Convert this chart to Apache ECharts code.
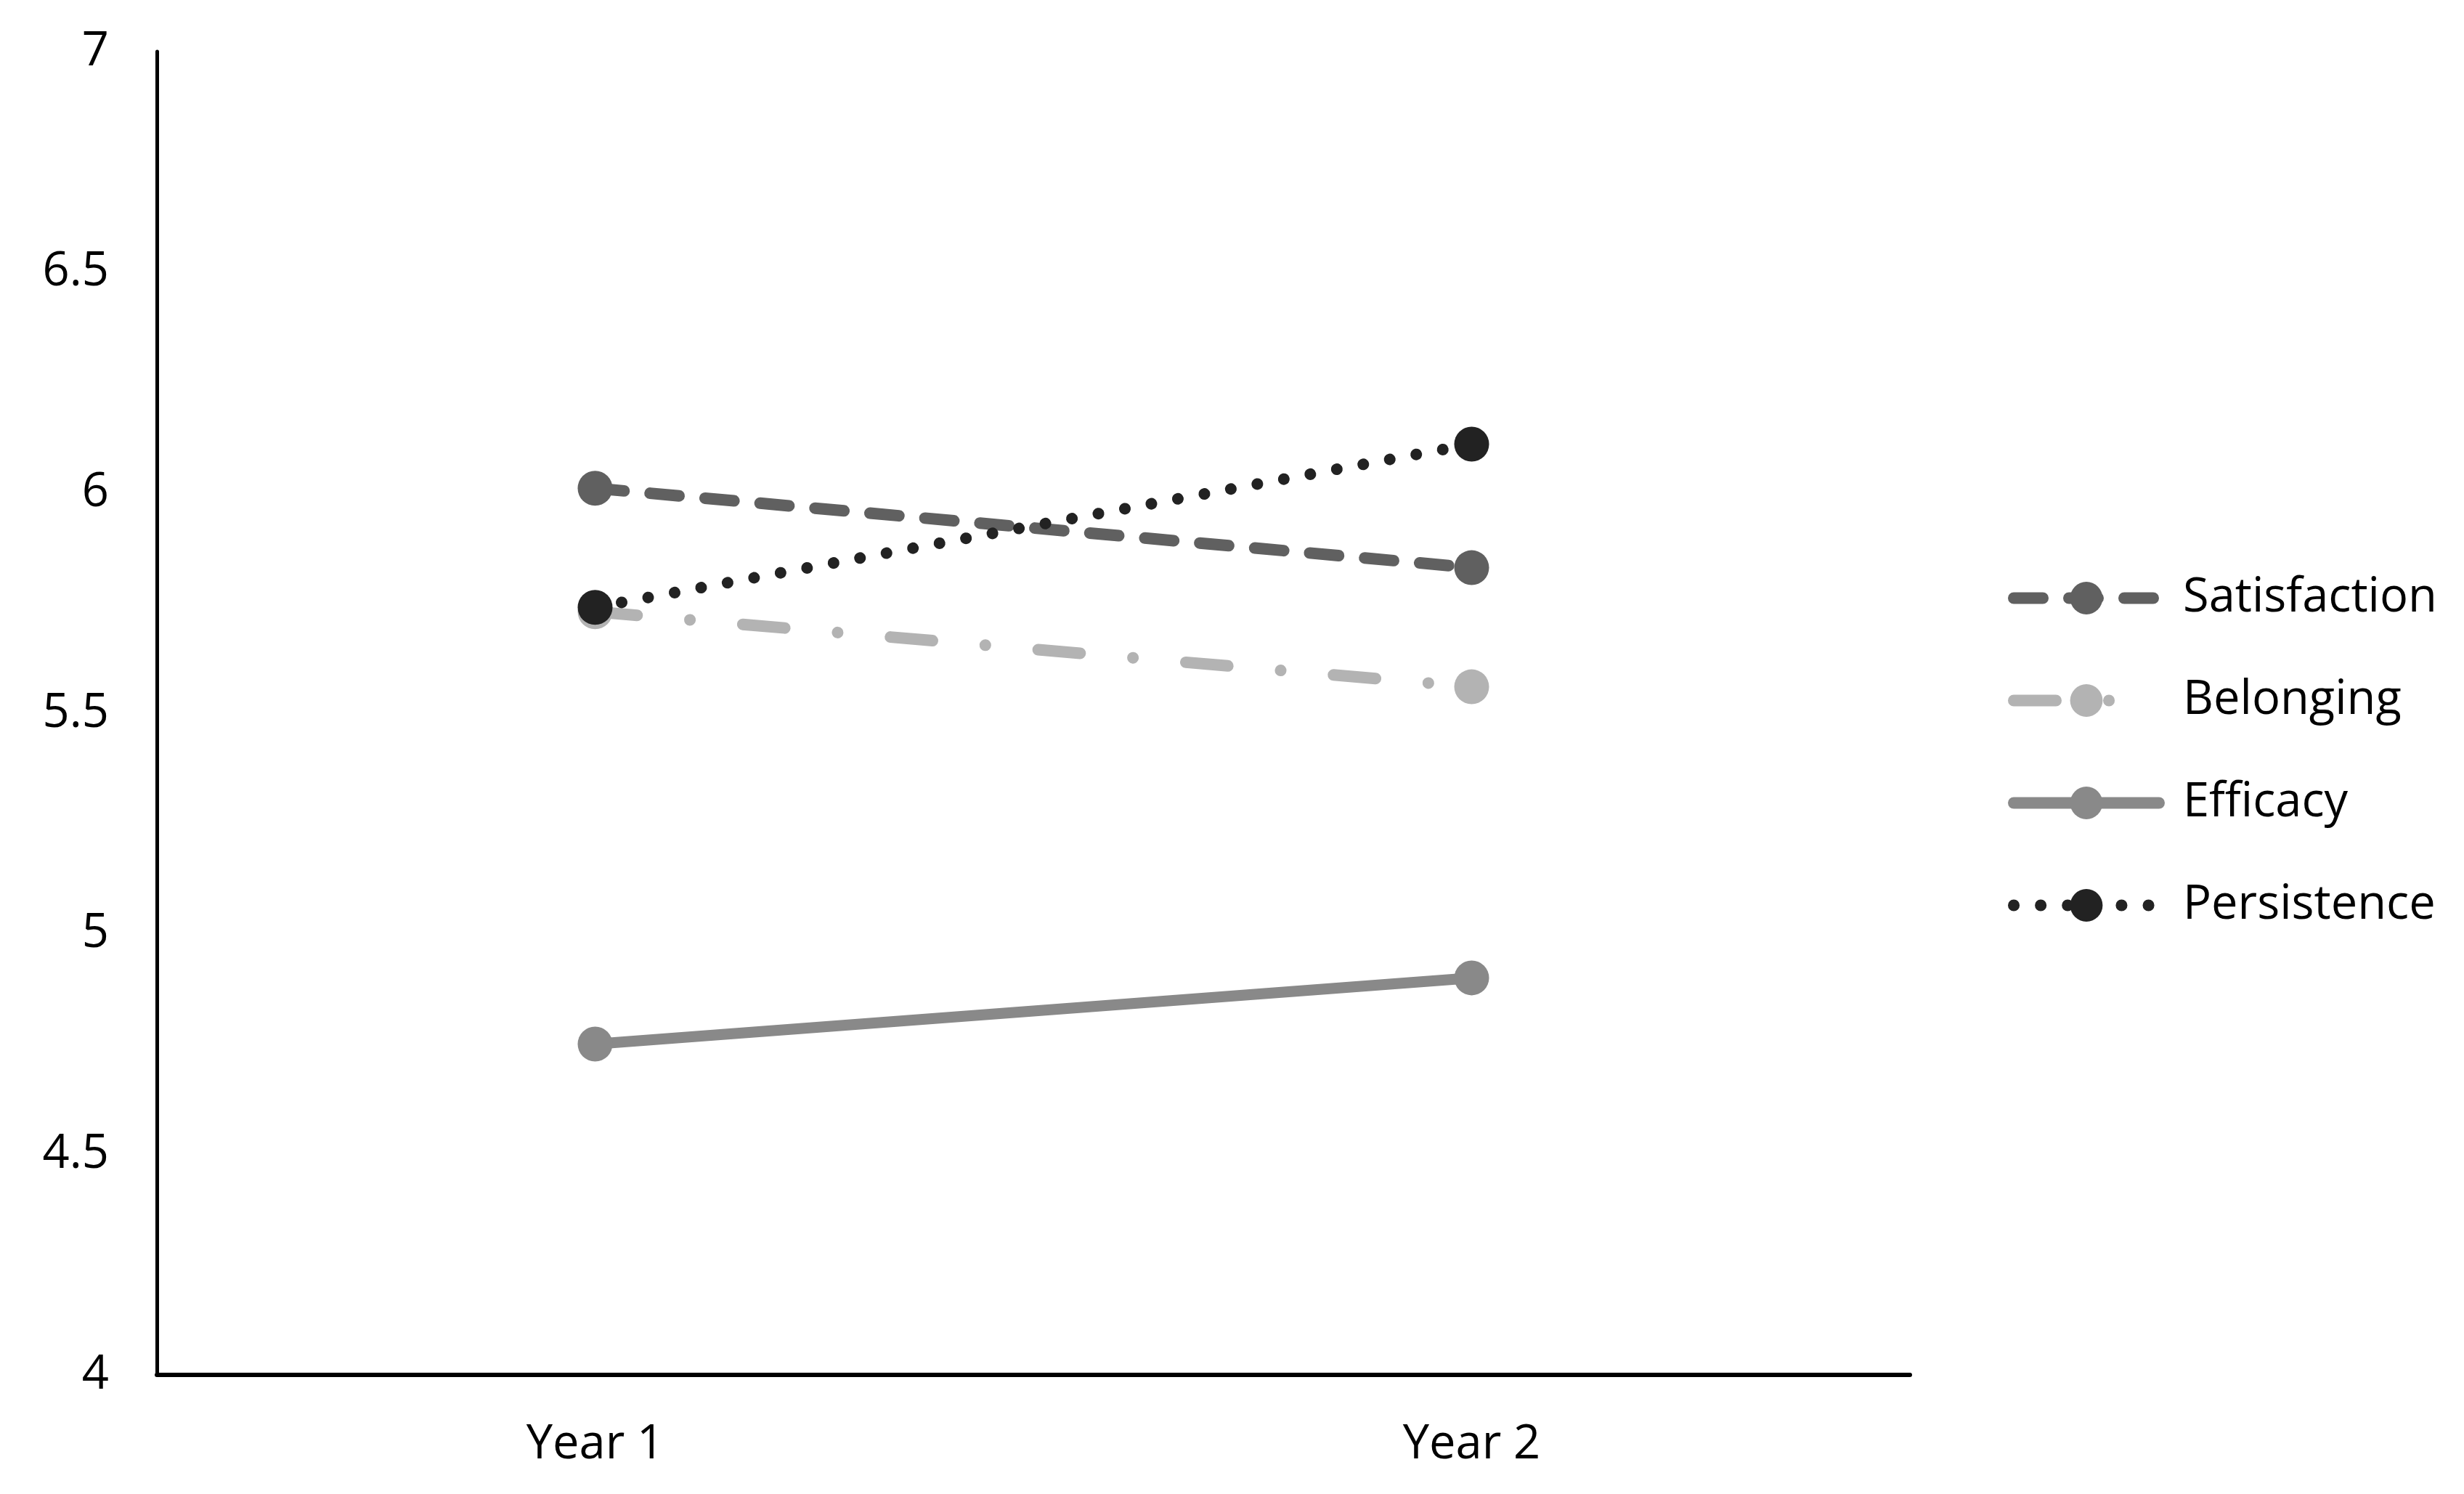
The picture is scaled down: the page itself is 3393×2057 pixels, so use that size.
<!DOCTYPE html>
<html>
<head>
<meta charset="utf-8">
<script src="https://cdn.jsdelivr.net/npm/echarts@6/dist/echarts.min.js"></script>
<style>html,body{margin:0;padding:0;background:#fff}#c{width:3393px;height:2057px}</style>
</head>
<body>
<div id="c"></div>
<script>
const categories = ['Year 1', 'Year 2'];
const seriesNames = ['Satisfaction', 'Belonging', 'Efficacy', 'Persistence'];
const satisfaction = [6.01, 5.83];
const belonging = [5.73, 5.56];
const efficacy = [4.75, 4.90];
const persistence = [5.74, 6.11];
const yTicks = [4, 4.5, 5, 5.5, 6, 6.5, 7];

const FONT = 'Open Sans';
const chart = echarts.init(document.getElementById('c'));
function mk(name, data, color, dash, width) {
  return {
    name: name, type: 'line', data: data,
    symbol: 'circle', symbolSize: 48,
    itemStyle: {color: color},
    lineStyle: {color: color, width: width, type: dash, cap: 'round'},
    emphasis: {disabled: true},
    animation: false
  };
}
chart.setOption({
  backgroundColor: '#ffffff',
  animation: false,
  grid: {left: 216, right: 763, top: 71, bottom: 164, containLabel: false},
  xAxis: {
    type: 'category', data: categories, boundaryGap: true,
    axisLine: {lineStyle: {color: '#000', width: 6}},
    axisTick: {show: false},
    axisLabel: {color: '#000', fontSize: 65, fontFamily: FONT, margin: 64}
  },
  yAxis: {
    type: 'value', min: 4, max: 7, interval: 0.5,
    axisLine: {show: true, lineStyle: {color: '#000', width: 5}},
    axisTick: {show: false},
    splitLine: {show: false},
    axisLabel: {color: '#000', fontSize: 65, fontFamily: FONT, margin: 66,
      formatter: function (v) { return yTicks.indexOf(v) >= 0 ? String(v) : ''; }}
  },
  legend: {
    orient: 'vertical', left: 2760, top: 786,
    itemWidth: 200, itemHeight: 56, itemGap: 76,
    lineStyle: {width: 16, cap: 'round'},
    textStyle: {color: '#000', fontSize: 65, fontFamily: FONT, lineHeight: 56, padding: [0, 0, 0, 28]},
    data: seriesNames
  },
  series: [
    mk(seriesNames[0], satisfaction, '#606060', [40, 36], 16),
    mk(seriesNames[1], belonging, '#b3b3b3', [58, 73, 0.1, 73], 16),
    mk(seriesNames[2], efficacy, '#898989', 'solid', 15),
    mk(seriesNames[3], persistence, '#222222', [0.1, 37], 16)
  ]
});
</script>
</body>
</html>
